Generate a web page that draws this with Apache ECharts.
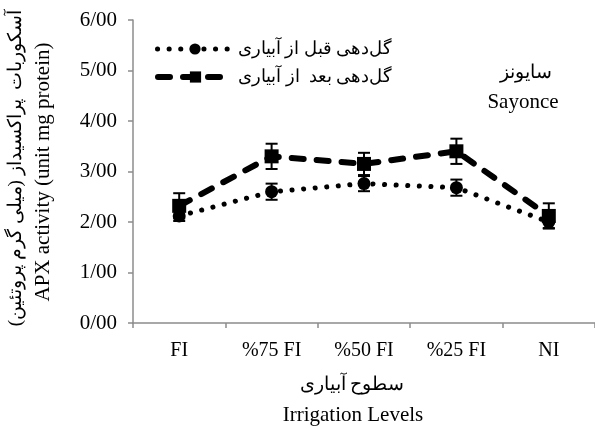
<!DOCTYPE html>
<html>
<head>
<meta charset="utf-8">
<script src="https://cdn.jsdelivr.net/npm/echarts@6/dist/echarts.min.js"></script>
<style>
html,body{margin:0;padding:0;background:#fff;}
#c{width:595px;height:429px;}
</style>
</head>
<body>
<div id="c"></div>
<script>
const categories = ['FI', '%75 FI', '%50 FI', '%25 FI', 'NI'];
const yTickLabels = ['0/00', '1/00', '2/00', '3/00', '4/00', '5/00', '6/00'];
const beforeName = 'گل‌دهی قبل از آبیاری';
const afterName = 'گل‌دهی بعد  از آبیاری';
const beforeValues = [2.12, 2.60, 2.76, 2.68, 2.00];
const beforeErrors = [0.10, 0.16, 0.15, 0.16, 0.12];
const afterValues = [2.32, 3.30, 3.15, 3.40, 2.12];
const afterErrors = [0.25, 0.25, 0.22, 0.25, 0.25];

const FONT = "'Liberation Serif', 'DejaVu Serif', serif";
const chart = echarts.init(document.getElementById('c'), null, {renderer: 'canvas'});

function errData(vals, errs) {
  return vals.map((v, i) => [i, v - errs[i], v + errs[i]]);
}
function errRender(params, api) {
  const x = api.value(0);
  const lo = api.coord([x, api.value(1)]);
  const hi = api.coord([x, api.value(2)]);
  const hw = 6;
  const st = {stroke: '#000', lineWidth: 2};
  return {
    type: 'group',
    children: [
      {type: 'line', shape: {x1: hi[0], y1: hi[1], x2: lo[0], y2: lo[1]}, style: st},
      {type: 'line', shape: {x1: hi[0] - hw, y1: hi[1], x2: hi[0] + hw, y2: hi[1]}, style: st},
      {type: 'line', shape: {x1: lo[0] - hw, y1: lo[1], x2: lo[0] + hw, y2: lo[1]}, style: st}
    ]
  };
}

const option = {
  animation: false,
  backgroundColor: '#fff',
  grid: {left: 133, right: 0, top: 20, bottom: 106},
  legend: [
    {
      left: 150,
      top: 35,
      itemWidth: 75,
      itemHeight: 14,
      itemGap: 4,
      textStyle: {fontFamily: FONT, fontSize: 18, color: '#000'},
      lineStyle: {width: 5},
      data: [beforeName]
    },
    {
      left: 150,
      top: 63,
      itemWidth: 75,
      itemHeight: 14,
      itemGap: 4,
      textStyle: {fontFamily: FONT, fontSize: 18, color: '#000'},
      lineStyle: {width: 6},
      data: [afterName]
    }
  ],
  xAxis: {
    type: 'category',
    data: categories,
    boundaryGap: true,
    axisLine: {lineStyle: {color: '#8c8c8c', width: 1.5}},
    axisTick: {show: true, length: 5, lineStyle: {color: '#8c8c8c', width: 1.5}},
    axisLabel: {fontFamily: FONT, fontSize: 20, color: '#000', margin: 18},
    splitLine: {show: false}
  },
  yAxis: {
    type: 'value',
    min: 0, max: 6, interval: 1,
    axisLine: {show: true, lineStyle: {color: '#8c8c8c', width: 1.5}},
    axisTick: {show: true, length: 5, lineStyle: {color: '#8c8c8c', width: 1.5}},
    axisLabel: {fontFamily: FONT, fontSize: 21, color: '#000', margin: 16,
      formatter: (v) => yTickLabels[Math.round(v)]},
    splitLine: {show: false}
  },
  series: [
    {
      name: beforeName,
      type: 'line',
      data: beforeValues,
      symbol: 'circle',
      symbolSize: 13,
      itemStyle: {color: '#000'},
      lineStyle: {color: '#000', width: 5, type: [0.1, 11.5], cap: 'round'},
      z: 3
    },
    {
      name: afterName,
      type: 'line',
      data: afterValues,
      symbol: 'rect',
      symbolSize: 14,
      itemStyle: {color: '#000'},
      lineStyle: {color: '#000', width: 6, type: [12, 13], cap: 'round'},
      z: 3
    },
    {
      type: 'custom',
      renderItem: errRender,
      data: errData(beforeValues, beforeErrors),
      encode: {x: 0, y: [1, 2]},
      z: 4,
      silent: true
    },
    {
      type: 'custom',
      renderItem: errRender,
      data: errData(afterValues, afterErrors),
      encode: {x: 0, y: [1, 2]},
      z: 4,
      silent: true
    }
  ],
  graphic: [
    {type: 'text', x: 16, y: 168, rotation: Math.PI / 2,
      style: {text: 'آسکوربات  پراکسیداز (میلی گرم پروتئین)\u200F', font: "19px " + FONT, fill: '#000', align: 'center', verticalAlign: 'middle'}},
    {type: 'text', x: 43, y: 172, rotation: Math.PI / 2,
      style: {text: 'APX activity (unit mg protein)', font: "21px " + FONT, fill: '#000', align: 'center', verticalAlign: 'middle'}},
    {type: 'text', x: 526, y: 73,
      style: {text: 'سایونز', font: "19px " + FONT, fill: '#000', align: 'center', verticalAlign: 'middle'}},
    {type: 'text', x: 523, y: 102,
      style: {text: 'Sayonce', font: "21px " + FONT, fill: '#000', align: 'center', verticalAlign: 'middle'}},
    {type: 'text', x: 352, y: 385,
      style: {text: 'سطوح آبیاری', font: "19px " + FONT, fill: '#000', align: 'center', verticalAlign: 'middle'}},
    {type: 'text', x: 353, y: 415,
      style: {text: 'Irrigation Levels', font: "21px " + FONT, fill: '#000', align: 'center', verticalAlign: 'middle'}}
  ]
};
chart.setOption(option);
</script>
</body>
</html>
